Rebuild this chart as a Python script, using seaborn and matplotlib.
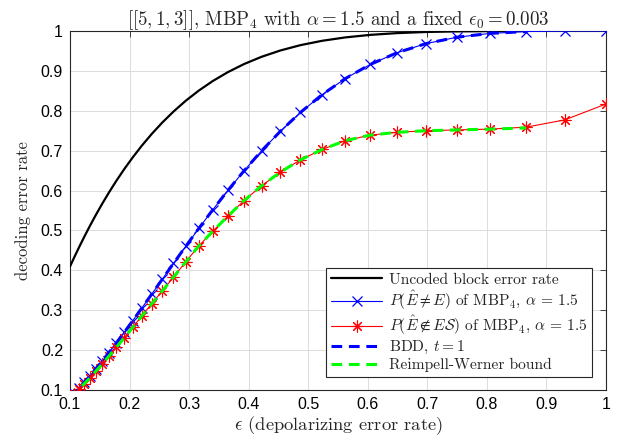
import matplotlib
matplotlib.use("Agg")
import matplotlib.pyplot as plt
import seaborn as sns
import pandas as pd
from matplotlib.ticker import FuncFormatter

# depolarizing error rates (marker grid)
eps = [0.1, 0.1075, 0.1155, 0.1241, 0.1334, 0.1433, 0.154, 0.1655, 0.1778,
       0.1911, 0.2054, 0.2207, 0.2371, 0.2548, 0.2738, 0.2943, 0.3162, 0.3398,
       0.3652, 0.3924, 0.4217, 0.4532, 0.4870, 0.5233, 0.5623, 0.6043, 0.6494,
       0.6978, 0.7499, 0.8058, 0.8660, 0.9306, 1.0]

uncoded = [0.4095, 0.4337, 0.4586, 0.4844, 0.5112, 0.5385, 0.5666, 0.5953,
           0.6243, 0.6537, 0.6832, 0.7126, 0.7416, 0.7702, 0.7980, 0.8250,
           0.8505, 0.8746, 0.8969, 0.9172, 0.9353, 0.9511, 0.9645, 0.9754,
           0.9839, 0.9903, 0.9947, 0.9975, 0.9990, 0.9997, 1.0000]

mbp_ne = [0.0815, 0.0927, 0.1052, 0.1192, 0.1350, 0.1526, 0.1722, 0.1940,
          0.2180, 0.2446, 0.2738, 0.3056, 0.3400, 0.3773, 0.4173, 0.4600,
          0.5049, 0.5518, 0.6004, 0.6498, 0.6995, 0.7485, 0.7958, 0.8403,
          0.8807, 0.9162, 0.9456, 0.9684, 0.9844, 0.9940, 0.9986, 0.9999, 1.0]

mbp_notin = [0.079, 0.090, 0.102, 0.116, 0.130, 0.147, 0.165, 0.185, 0.207,
             0.231, 0.257, 0.286, 0.316, 0.348, 0.383, 0.421, 0.461, 0.498,
             0.536, 0.575, 0.612, 0.646, 0.677, 0.703, 0.725, 0.739, 0.746,
             0.750, 0.752, 0.754, 0.759, 0.777, 0.817]

bdd = [0.0815, 0.0927, 0.1052, 0.1192, 0.1350, 0.1526, 0.1722, 0.1940,
       0.2180, 0.2446, 0.2738, 0.3056, 0.3400, 0.3773, 0.4173, 0.4600,
       0.5049, 0.5518, 0.6004, 0.6498, 0.6995, 0.7485, 0.7958, 0.8403,
       0.8807, 0.9162, 0.9456, 0.9684, 0.9844, 0.9940, 0.9986]

rw_bound = [0.079, 0.090, 0.102, 0.116, 0.130, 0.147, 0.165, 0.185, 0.207,
            0.231, 0.257, 0.286, 0.316, 0.348, 0.383, 0.421, 0.461, 0.498,
            0.536, 0.575, 0.612, 0.646, 0.677, 0.703, 0.725, 0.739, 0.746,
            0.750, 0.752, 0.754, 0.757]

xticks = [0.1, 0.2, 0.3, 0.4, 0.5, 0.6, 0.7, 0.8, 0.9, 1.0]
yticks = [0.1, 0.2, 0.3, 0.4, 0.5, 0.6, 0.7, 0.8, 0.9, 1.0]

sns.set_style("whitegrid")
plt.rcParams['font.family'] = ['Liberation Sans', 'DejaVu Sans']
plt.rcParams['mathtext.fontset'] = 'cm'
SERIF = ['cmr10', 'DejaVu Serif']

fig = plt.figure(figsize=(6.22, 4.44), dpi=100)
ax = fig.add_axes([0.1125, 0.1216, 0.8617, 0.8086])

n_short = len(uncoded)
df_unc = pd.DataFrame({"eps": eps[:n_short], "val": uncoded})
df_ne = pd.DataFrame({"eps": eps, "val": mbp_ne})
df_notin = pd.DataFrame({"eps": eps, "val": mbp_notin})
df_bdd = pd.DataFrame({"eps": eps[:len(bdd)], "val": bdd})
df_rw = pd.DataFrame({"eps": eps[:len(rw_bound)], "val": rw_bound})

sns.lineplot(data=df_unc, x="eps", y="val", ax=ax, color="black", lw=1.6,
             label="Uncoded block error rate", zorder=3)
sns.lineplot(data=df_ne, x="eps", y="val", ax=ax, color=(0, 0, 1), lw=0.8,
             marker="x", markersize=6.5, markeredgewidth=0.9,
             markeredgecolor=(0, 0, 1),
             label=r"$P(\hat{E}\neq E)$ of MBP$_4$, $\alpha\,=\,1.5$", zorder=4)
sns.lineplot(data=df_notin, x="eps", y="val", ax=ax, color=(1, 0, 0), lw=0.8,
             marker=(8, 2, 0), markersize=8.5, markeredgewidth=0.8,
             markeredgecolor=(1, 0, 0),
             label=r"$P(\hat{E}\notin E\mathcal{S})$ of MBP$_4$, $\alpha\,=\,1.5$",
             zorder=5)
sns.lineplot(data=df_bdd, x="eps", y="val", ax=ax, color=(0, 0, 1), lw=2.2,
             linestyle=(0, (3.5, 2.2)),
             label=r"BDD, $t=1$", zorder=6)
sns.lineplot(data=df_rw, x="eps", y="val", ax=ax, color=(0, 1, 0), lw=2.2,
             linestyle=(0, (3.5, 2.2)),
             label="Reimpell-Werner bound", zorder=7)

ax.set_xlim(0.1, 1.0)
ax.set_ylim(0.1, 1.0)
ax.set_xticks(xticks)
ax.set_yticks(yticks)
fmt = FuncFormatter(lambda v, p: f"{v:g}")
ax.xaxis.set_major_formatter(fmt)
ax.yaxis.set_major_formatter(fmt)
ax.tick_params(direction="in", length=4, width=0.6, top=True, right=True,
               labelsize=11.5, colors="#262626", labelcolor="black", pad=5)
ax.grid(True, color="#dcdcdc", lw=0.7)
for s in ax.spines.values():
    s.set_visible(True)
    s.set_color("#262626")
    s.set_linewidth(0.8)

ax.set_xlabel(r"$\epsilon$ (depolarizing error rate)", fontsize=13.3,
              labelpad=2, family=SERIF)
ax.set_ylabel("decoding error rate", fontsize=12, labelpad=7, family=SERIF)
ax.set_title(r"$[[5,1,3]]$, MBP$_4$ with $\alpha=1.5$ and a fixed $\epsilon_0=0.003$",
             fontsize=13.6, pad=4.5, family=SERIF)

leg = ax.legend(loc="lower right", bbox_to_anchor=(0.974, 0.036),
                prop={'family': SERIF, 'size': 11.2},
                frameon=True, fancybox=False, framealpha=1, edgecolor="#262626",
                handlelength=3.3, labelspacing=0.12, borderpad=0.3,
                handletextpad=0.4, borderaxespad=0, numpoints=1)
leg.get_frame().set_linewidth(0.8)

fig.savefig("out.png", dpi=100)
